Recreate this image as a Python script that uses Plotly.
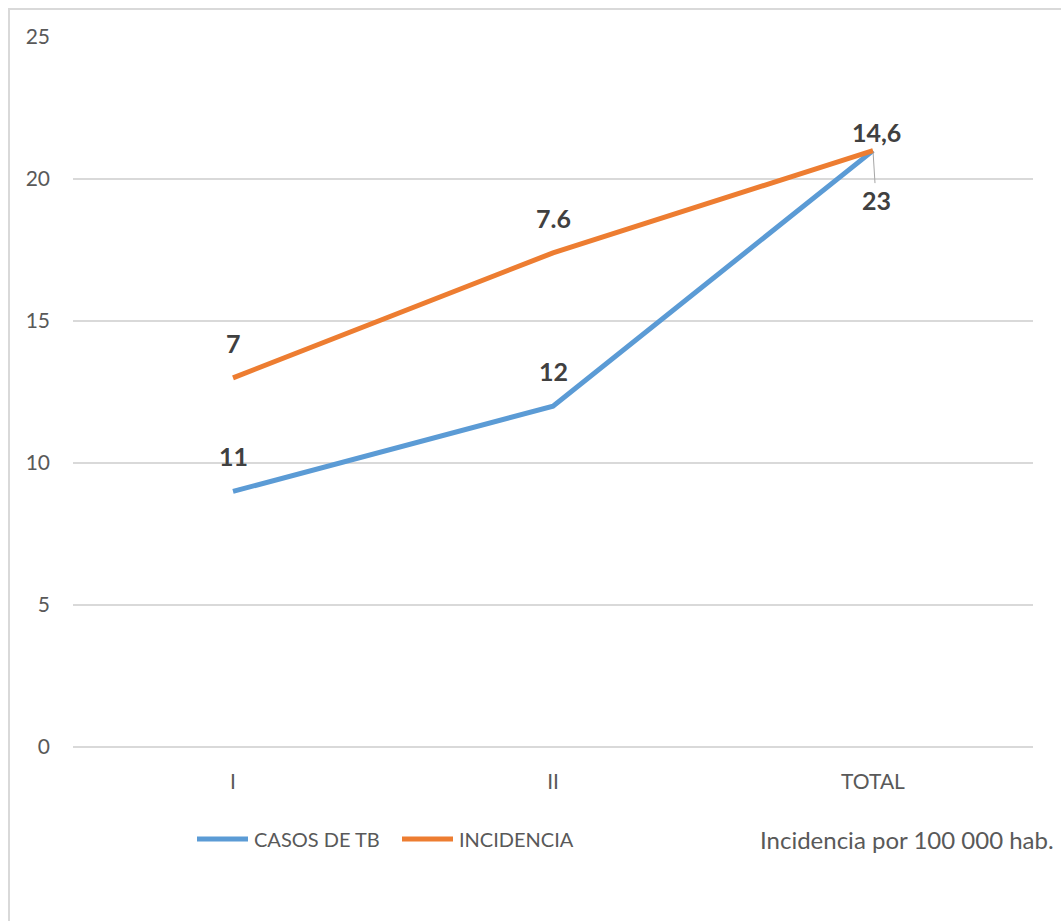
import plotly.graph_objects as go

# Trimestres y series
categories = ["I", "II", "TOTAL"]
casos_tb = [9, 12, 21]
incidencia = [13, 17.4, 21]

# Etiquetas de datos mostradas sobre cada punto
casos_labels = ["11", "12", "23"]
incidencia_labels = ["7", "7.6", "14,6"]

y_ticks = [0, 5, 10, 15, 20, 25]

BLUE = "#5B9BD5"
ORANGE = "#ED7D31"
GRID = "#D9D9D9"
TICK = "#595959"
LABEL = "#404040"
FONT = "Lato, 'Open Sans', sans-serif"

# Plot area in pixels (page is 1061 x 921)
L, R, T, B = 73, 1033, 37, 747
W, H = R - L, B - T


def px_x(p):
    return (p - L) / W


def px_y(p):
    return (B - p) / H


fig = go.Figure()
fig.add_trace(go.Scatter(x=categories, y=casos_tb, mode="lines", name="CASOS DE TB",
                         line=dict(color=BLUE, width=5), showlegend=False))
fig.add_trace(go.Scatter(x=categories, y=incidencia, mode="lines", name="INCIDENCIA",
                         line=dict(color=ORANGE, width=5), showlegend=False))

annotations = []
label_font = dict(family=FONT, size=25, color=LABEL, weight="bold")

# Incidencia labels above each point
for i, (c, v, t) in enumerate(zip(categories, incidencia, incidencia_labels)):
    shift = 19 if i == len(categories) - 1 else 35
    annotations.append(dict(x=c, y=v, xref="x", yref="y", text=t, showarrow=False,
                            yshift=shift, xshift=3 if i == len(categories) - 1 else 0,
                            font=label_font))

# Casos labels; the last one sits below with a leader line
for i, (c, v, t) in enumerate(zip(categories, casos_tb, casos_labels)):
    if i == len(categories) - 1:
        annotations.append(dict(x=c, y=v, xref="x", yref="y", text=t, showarrow=True,
                                arrowhead=0, arrowwidth=1, arrowcolor="#A6A6A6",
                                ax=3, ay=49, standoff=2, font=label_font))
    else:
        annotations.append(dict(x=c, y=v, xref="x", yref="y", text=t, showarrow=False,
                                yshift=35, font=label_font))

legend_font = dict(family=FONT, size=20, color=TICK)
legend_y = px_y(839)
shapes = []
legend_items = [("CASOS DE TB", BLUE, 195, 250), ("INCIDENCIA", ORANGE, 400, 455)]
for name, color, x0, x1 in legend_items:
    shapes.append(dict(type="line", xref="paper", yref="paper",
                       x0=px_x(x0 + 2), x1=px_x(x1 - 2), y0=legend_y, y1=legend_y,
                       line=dict(color=color, width=5)))
    annotations.append(dict(xref="paper", yref="paper", x=px_x(x1 + 2), y=legend_y,
                            xanchor="left", yanchor="middle", text=name,
                            showarrow=False, font=legend_font))

annotations.append(dict(xref="paper", yref="paper", x=px_x(1056), y=legend_y,
                        xanchor="right", yanchor="middle",
                        text="Incidencia por 100 000 hab.", showarrow=False,
                        font=dict(family=FONT, size=24, color=TICK)))

# Chart frame
shapes.append(dict(type="rect", xref="paper", yref="paper",
                   x0=px_x(9), x1=px_x(1068), y0=px_y(930), y1=px_y(9),
                   line=dict(color=GRID, width=2), layer="below"))

fig.update_layout(
    width=1061, height=921,
    margin=dict(l=L, r=1061 - R, t=T, b=921 - B),
    paper_bgcolor="white", plot_bgcolor="white",
    font=dict(family=FONT, color=TICK),
    xaxis=dict(type="category", range=[-0.5, 2.5], showgrid=False, zeroline=False,
               showline=False, ticks="", ticklabelstandoff=20,
               tickfont=dict(family=FONT, size=21, color=TICK)),
    yaxis=dict(range=[0, 25], tickvals=y_ticks, showgrid=True, gridcolor=GRID,
               gridwidth=1.5, zeroline=True, zerolinecolor=GRID, zerolinewidth=1.5,
               showline=False, ticks="", ticklabelstandoff=22,
               tickfont=dict(family=FONT, size=21, color=TICK)),
    annotations=annotations,
    shapes=shapes,
    showlegend=False,
)

fig.write_html("out.html")
